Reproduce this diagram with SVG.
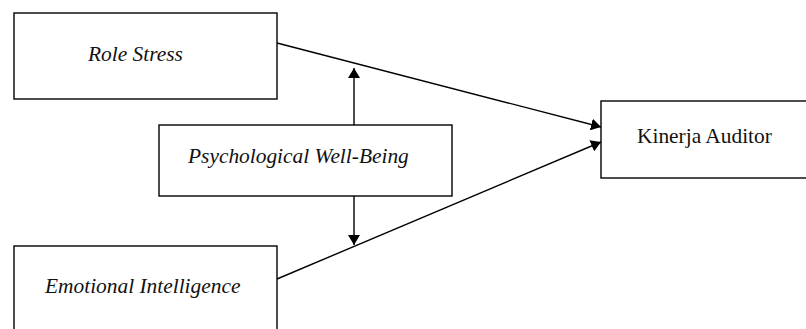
<svg xmlns="http://www.w3.org/2000/svg" width="806" height="329" viewBox="0 0 806 329">
<style>
.box{fill:#fff;stroke:#000;stroke-width:1.4}
.lbl{font-family:"Liberation Serif","Times New Roman",serif;font-size:21.4px;fill:#111}
.it{font-style:italic}
.edge{stroke:#000;stroke-width:1.4;fill:none}
</style>
<defs>
<marker id="ah" viewBox="0 0 10 12" refX="10" refY="6" markerWidth="10" markerHeight="12" markerUnits="userSpaceOnUse" orient="auto">
<path d="M0,0 L10,6 L0,12 Z" fill="#000"/>
</marker>
</defs>
<rect x="0" y="0" width="806" height="329" fill="#fff"/>
<g id="role-stress">
<rect class="box" x="14" y="13" width="263" height="86"/>
<text class="lbl it" x="88" y="61">Role Stress</text>
</g>
<g id="psychological-well-being">
<rect class="box" x="159" y="125" width="293" height="71"/>
<text class="lbl it" x="188" y="163">Psychological Well-Being</text>
</g>
<g id="emotional-intelligence">
<rect class="box" x="14" y="246" width="263" height="100"/>
<text class="lbl it" x="45" y="293">Emotional Intelligence</text>
</g>
<g id="kinerja-auditor">
<rect class="box" x="601" y="101" width="220" height="77"/>
<text class="lbl" x="637" y="143">Kinerja Auditor</text>
</g>
<g id="connectors">
<line class="edge" x1="277" y1="43" x2="601" y2="127" marker-end="url(#ah)"/>
<line class="edge" x1="277" y1="279" x2="601" y2="142" marker-end="url(#ah)"/>
<line class="edge" x1="354" y1="125" x2="354" y2="68" marker-end="url(#ah)"/>
<line class="edge" x1="354" y1="196" x2="354" y2="245" marker-end="url(#ah)"/>
</g>
</svg>
